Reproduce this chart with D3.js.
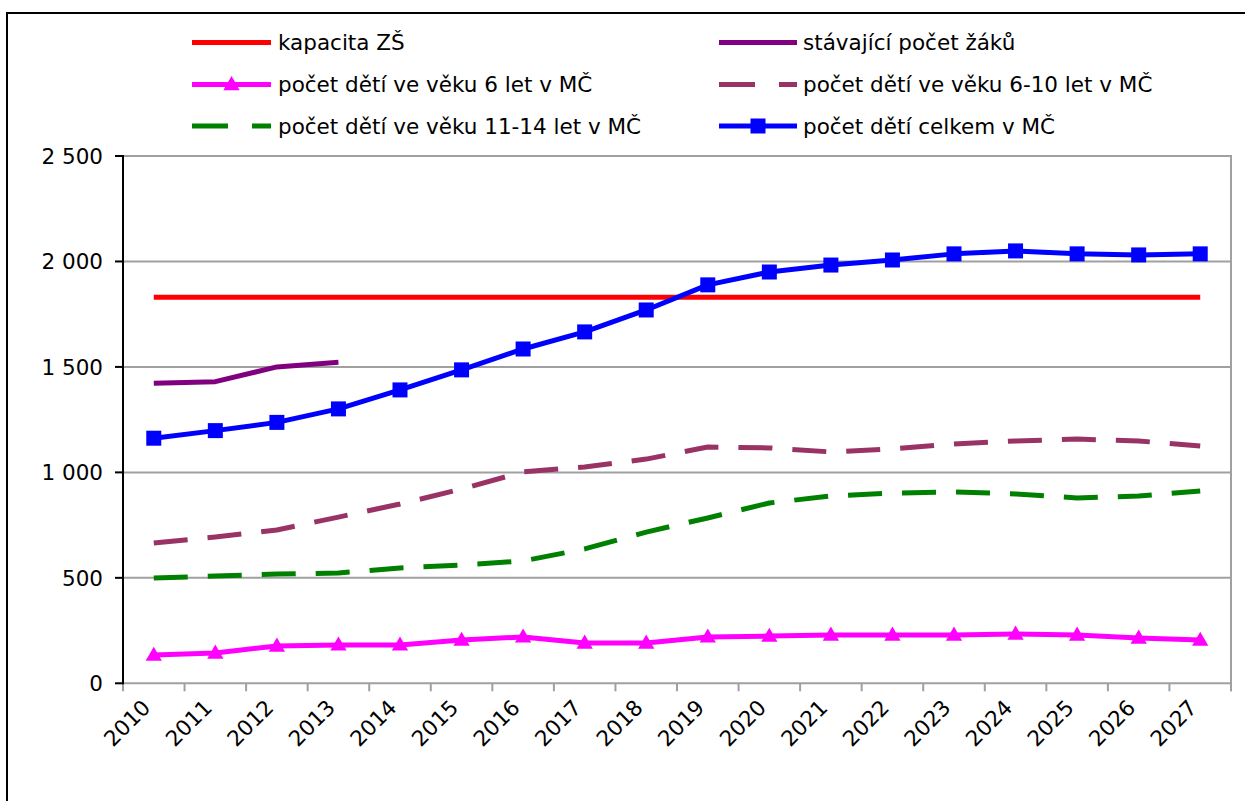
<!DOCTYPE html>
<html>
<head>
<meta charset="utf-8">
<script src="https://cdn.jsdelivr.net/npm/d3@7"></script>
<style>
  html, body { margin: 0; padding: 0; background: #fff; }
  svg { display: block; }
  text { font-family: "DejaVu Sans", Verdana, sans-serif; fill: #000; }
</style>
</head>
<body>
<svg id="chart" width="1245" height="801"></svg>
<script>
const years = ["2010","2011","2012","2013","2014","2015","2016","2017","2018","2019","2020","2021","2022","2023","2024","2025","2026","2027"];
const yTicks = [0, 500, 1000, 1500, 2000, 2500];

const kapacita   = [1830,1830,1830,1830,1830,1830,1830,1830,1830,1830,1830,1830,1830,1830,1830,1830,1830,1830];
const stavajici  = [1422,1430,1500,1522];
const deti6      = [134,144,177,182,182,205,220,191,191,220,224,229,229,229,234,229,215,205];
const deti6_10   = [665,694,727,788,850,921,1002,1026,1063,1120,1116,1097,1111,1135,1149,1158,1149,1125];
const deti11_14  = [499,509,518,523,547,561,580,637,717,784,855,888,902,907,898,879,888,912];
const celkem     = [1162,1198,1237,1301,1391,1486,1585,1666,1770,1889,1950,1983,2007,2036,2050,2036,2031,2036];

const seriesList = [
  { name: "kapacita ZŠ", values: kapacita, color: "#FF0000", dash: null, marker: null },
  { name: "stávající počet žáků", values: stavajici, color: "#800080", dash: null, marker: null },
  { name: "počet dětí ve věku 6 let v MČ", values: deti6, color: "#FF00FF", dash: null, marker: "triangle" },
  { name: "počet dětí ve věku 6-10 let v MČ", values: deti6_10, color: "#993366", dash: "34,20", marker: null },
  { name: "počet dětí ve věku 11-14 let v MČ", values: deti11_14, color: "#008000", dash: "34,20", marker: null },
  { name: "počet dětí celkem v MČ", values: celkem, color: "#0000FF", dash: null, marker: "square" }
];

const svg = d3.select("#chart");
const pL = 123, pR = 1231, pT = 156, pB = 683.3;

// outer frame
svg.append("rect").attr("x", 7).attr("y", 13).attr("width", 1260).attr("height", 820)
  .attr("fill", "none").attr("stroke", "#000").attr("stroke-width", 2);

const x = d3.scaleBand().domain(years).range([pL, pR]).padding(0);
const y = d3.scaleLinear().domain([0, 2500]).range([pB, pT]);

// gridlines
svg.append("g").selectAll("line").data(yTicks.filter(d => d > 0)).join("line")
  .attr("x1", pL).attr("x2", pR)
  .attr("y1", d => y(d)).attr("y2", d => y(d))
  .attr("stroke", "#A0A0A0").attr("stroke-width", 2);

// right border
svg.append("line").attr("x1", pR).attr("x2", pR).attr("y1", pT - 1).attr("y2", pB + 8)
  .attr("stroke", "#A0A0A0").attr("stroke-width", 2);

// x axis
const xAxis = svg.append("g").attr("transform", `translate(0,${pB})`);
xAxis.append("line").attr("x1", pL).attr("x2", pR + 1).attr("y1", 0).attr("y2", 0)
  .attr("stroke", "#A0A0A0").attr("stroke-width", 2);
const xTickPos = years.map(d => x(d)).concat([pR]);
xAxis.selectAll("line.tick").data(xTickPos).join("line").attr("class", "tick")
  .attr("x1", d => d).attr("x2", d => d).attr("y1", 0).attr("y2", 8)
  .attr("stroke", "#A0A0A0").attr("stroke-width", 2);
xAxis.selectAll("text").data(years).join("text")
  .attr("transform", d => `translate(${x(d) + x.bandwidth() / 2 - 2},${709 - pB}) rotate(-45)`)
  .attr("text-anchor", "end")
  .attr("font-size", 21.5)
  .text(d => d);

// y axis
const yAxis = svg.append("g");
yAxis.append("line").attr("x1", pL).attr("x2", pL).attr("y1", pT - 1).attr("y2", pB + 1)
  .attr("stroke", "#000").attr("stroke-width", 2);
yAxis.selectAll("line.tick").data(yTicks).join("line").attr("class", "tick")
  .attr("x1", pL - 8).attr("x2", pL).attr("y1", d => y(d)).attr("y2", d => y(d))
  .attr("stroke", "#000").attr("stroke-width", 2);
const fmt = d => d3.format(",")(d).replace(/,/g, "\u00A0");
yAxis.selectAll("text").data(yTicks).join("text")
  .attr("x", 103).attr("y", d => y(d))
  .attr("dy", "0.36em")
  .attr("text-anchor", "end")
  .attr("font-size", 21.5)
  .text(d => fmt(d));

// series
const cx = i => x(years[i]) + x.bandwidth() / 2;
const line = d3.line().x((d, i) => cx(i)).y(d => y(d));
const tri = d3.symbol().type(d3.symbolTriangle).size(115);

seriesList.forEach(s => {
  svg.append("path").datum(s.values)
    .attr("d", line)
    .attr("fill", "none")
    .attr("stroke", s.color)
    .attr("stroke-width", 5)
    .attr("stroke-dasharray", s.dash)
    .attr("stroke-linejoin", "round");
  if (s.marker === "square") {
    svg.append("g").selectAll("rect").data(s.values).join("rect")
      .attr("x", (d, i) => cx(i) - 7.5).attr("y", d => y(d) - 7.5)
      .attr("width", 15).attr("height", 15).attr("fill", s.color);
  } else if (s.marker === "triangle") {
    svg.append("g").selectAll("path").data(s.values).join("path")
      .attr("d", tri)
      .attr("transform", (d, i) => `translate(${cx(i)},${y(d) + 1})`)
      .attr("fill", s.color);
  }
});

// legend
const legendRows = [42.5, 84.5, 126];
const legendCols = [{ x1: 192, x2: 271, tx: 278 }, { x1: 719, x2: 797, tx: 803 }];
const legendOrder = [0, 1, 2, 3, 4, 5];
legendOrder.forEach((si, k) => {
  const s = seriesList[si];
  const col = legendCols[k % 2];
  const ry = legendRows[Math.floor(k / 2)];
  const g = svg.append("g");
  g.append("line").attr("x1", col.x1).attr("x2", col.x2).attr("y1", ry).attr("y2", ry)
    .attr("stroke", s.color).attr("stroke-width", 5)
    .attr("stroke-dasharray", s.dash ? "36,24" : null);
  const mx = (col.x1 + col.x2) / 2;
  if (s.marker === "square") {
    g.append("rect").attr("x", mx - 7.5).attr("y", ry - 7.5).attr("width", 15).attr("height", 15).attr("fill", s.color);
  } else if (s.marker === "triangle") {
    g.append("path").attr("d", tri).attr("transform", `translate(${mx},${ry + 1})`).attr("fill", s.color);
  }
  g.append("text").attr("x", col.tx).attr("y", ry).attr("dy", "0.35em")
    .attr("font-size", 21.5).text(s.name);
});
</script>
</body>
</html>
